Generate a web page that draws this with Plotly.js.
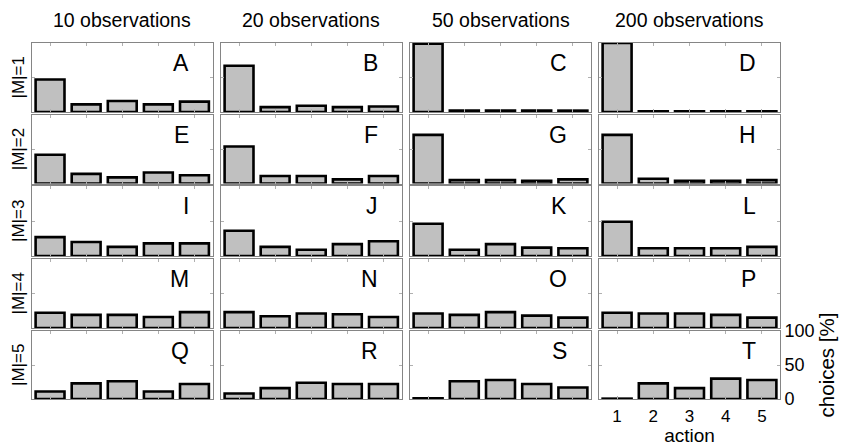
<!DOCTYPE html>
<html>
<head>
<meta charset="utf-8">
<script src="https://cdn.plot.ly/plotly-3.0.1.min.js"></script>
<style>
  html, body { margin: 0; padding: 0; background: #ffffff; }
  #chart { width: 842px; height: 446px; }
</style>
</head>
<body>
<div id="chart"></div>
<script>
// ---- data (percent of choices per action) ----
const actions = [1, 2, 3, 4, 5];
const colTitles = ["10 observations", "20 observations", "50 observations", "200 observations"];
const rowLabels = ["|M|=1", "|M|=2", "|M|=3", "|M|=4", "|M|=5"];
const panelLetters = [
  ["A", "B", "C", "D"],
  ["E", "F", "G", "H"],
  ["I", "J", "K", "L"],
  ["M", "N", "O", "P"],
  ["Q", "R", "S", "T"]
];
// one array per column (10, 20, 50, 200 observations), rows |M|=1..5
const obs10 = [
  [47, 11, 16, 11, 15],
  [42, 14, 9, 16, 12],
  [27, 20, 13, 18, 18],
  [22, 19, 19, 16, 23],
  [11, 23, 26, 11, 22]
];
const obs20 = [
  [67, 7, 9, 7, 8],
  [54, 11, 11, 6, 11],
  [36, 13, 9, 17, 21],
  [23, 17, 21, 20, 16],
  [8, 16, 24, 22, 22]
];
const obs50 = [
  [99, 2, 2, 2, 2],
  [71, 5, 5, 4, 6],
  [46, 9, 17, 12, 11],
  [21, 19, 23, 18, 15],
  [1, 26, 28, 22, 17]
];
const obs200 = [
  [100, 1, 1, 1, 1],
  [71, 7, 4, 4, 5],
  [49, 11, 11, 11, 13],
  [22, 21, 21, 19, 15],
  [0.5, 23, 16, 30, 28]
];
const yTicks = [0, 50, 100];
const xTitle = "action";
const yTitle = "choices [%]";

// ---- layout geometry (pixels) ----
const W = 842, H = 446;
const colPx = [[32, 212.5], [221, 401.5], [410, 591], [599, 780]];
const rowPx = [[43, 112], [115, 183.5], [186, 256], [259, 328], [331, 399]];
const columns = [obs10, obs20, obs50, obs200];

const FONT = "Liberation Sans, Arial, Helvetica, sans-serif";
const frameColor = "#858585";

const traces = [];
const layout = {
  width: W, height: H,
  margin: {l: 0, r: 0, t: 0, b: 0},
  paper_bgcolor: "#ffffff",
  plot_bgcolor: "#ffffff",
  showlegend: false,
  font: {family: FONT, color: "#000000"},
  annotations: []
};

for (let r = 0; r < 5; r++) {
  for (let c = 0; c < 4; c++) {
    const n = r * 4 + c + 1;
    const xa = n === 1 ? "x" : "x" + n;
    const ya = n === 1 ? "y" : "y" + n;
    const isLast = (r === 4 && c === 3);
    traces.push({
      type: "bar",
      x: actions,
      y: columns[c][r],
      xaxis: xa, yaxis: ya,
      width: 0.8,
      marker: {color: "#c0c0c0", line: {color: "#000000", width: 2.6}},
      hoverinfo: "skip"
    });
    const xKey = n === 1 ? "xaxis" : "xaxis" + n;
    const yKey = n === 1 ? "yaxis" : "yaxis" + n;
    layout[xKey] = {
      domain: [colPx[c][0] / W, colPx[c][1] / W],
      anchor: ya,
      range: [0.5, 5.5],
      fixedrange: true,
      showgrid: false, zeroline: false,
      showline: true, mirror: "ticks", linecolor: frameColor, linewidth: 1,
      ticks: "inside", ticklen: 3, tickcolor: "#b0b0b0",
      tickmode: "array", tickvals: actions, ticktext: actions.map(String),
      showticklabels: isLast,
      ticklabelstandoff: 2,
      tickfont: {size: 17, family: FONT, color: "#000"}
    };
    layout[yKey] = {
      domain: [1 - rowPx[r][1] / H, 1 - rowPx[r][0] / H],
      anchor: xa,
      side: "right",
      range: [0, 100],
      fixedrange: true,
      showgrid: false, zeroline: false,
      showline: true, mirror: "ticks", linecolor: frameColor, linewidth: 1,
      ticks: "inside", ticklen: 3, tickcolor: "#b0b0b0",
      tickmode: "array", tickvals: yTicks, ticktext: yTicks.map(String),
      showticklabels: isLast,
      tickfont: {size: 18, family: FONT, color: "#000"}
    };
    if (isLast) {
      layout[xKey].title = {text: xTitle, font: {size: 19, family: FONT, color: "#000"}, standoff: 4};
      layout[yKey].title = {text: yTitle, font: {size: 20.5, family: FONT, color: "#000"}, standoff: 6};
    }
    // panel letter
    layout.annotations.push({
      text: panelLetters[r][c],
      xref: "paper", yref: "paper",
      x: (colPx[c][1] - 22) / W, y: 1 - (rowPx[r][0] + 20) / H,
      xanchor: "right", yanchor: "middle",
      showarrow: false,
      font: {size: 23, family: FONT, color: "#000"}
    });
  }
}

// column titles
for (let c = 0; c < 4; c++) {
  layout.annotations.push({
    text: colTitles[c],
    xref: "paper", yref: "paper",
    x: (colPx[c][0] + colPx[c][1]) / 2 / W, y: 1 - 20 / H,
    xanchor: "center", yanchor: "middle",
    showarrow: false,
    font: {size: 19.5, family: FONT, color: "#000"}
  });
}
// row labels
for (let r = 0; r < 5; r++) {
  layout.annotations.push({
    text: rowLabels[r],
    xref: "paper", yref: "paper",
    x: 18 / W, y: 1 - (rowPx[r][0] + rowPx[r][1]) / 2 / H,
    xanchor: "center", yanchor: "middle",
    textangle: -90,
    showarrow: false,
    font: {size: 17, family: FONT, color: "#000"}
  });
}

Plotly.newPlot("chart", traces, layout, {staticPlot: true, displayModeBar: false});
</script>
</body>
</html>
